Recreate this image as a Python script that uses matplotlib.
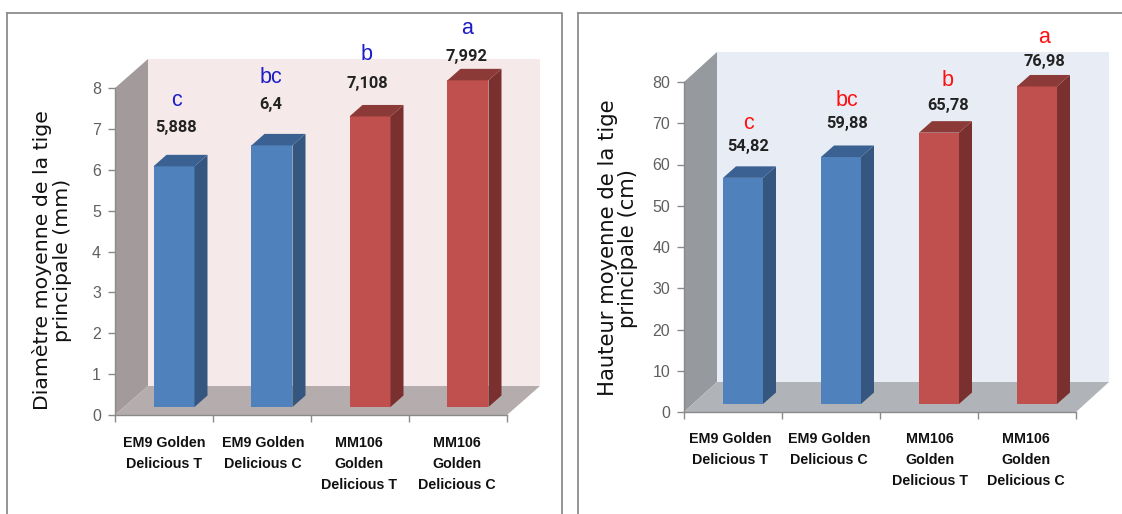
import matplotlib
matplotlib.use("Agg")
import matplotlib.pyplot as plt
from matplotlib.patches import Polygon, Rectangle

W, H = 1122, 514
categories = ["EM9 Golden\nDelicious T", "EM9 Golden\nDelicious C",
              "MM106\nGolden\nDelicious T", "MM106\nGolden\nDelicious C"]
diametre = [5.888, 6.4, 7.108, 7.992]
hauteur = [54.82, 59.88, 65.78, 76.98]
diam_labels = ["5,888", "6,4", "7,108", "7,992"]
haut_labels = ["54,82", "59,88", "65,78", "76,98"]
letters = ["c", "bc", "b", "a"]
diam_ticks = [0, 1, 2, 3, 4, 5, 6, 7, 8]
haut_ticks = [0, 10, 20, 30, 40, 50, 60, 70, 80]
bar_colors = ["blue", "blue", "red", "red"]

PAL = {"blue": ("#4F81BD", "#34567F", "#3A6191"), "red": ("#C0504D", "#7A302E", "#8C3A38")}
fig = plt.figure(figsize=(W / 100, H / 100), dpi=100, facecolor="white")
SANS = "Liberation Sans"
NARROW = "Roboto"

bg = fig.add_axes([0, 0, 1, 1], zorder=0)
bg.set_xlim(0, W); bg.set_ylim(H, 0); bg.axis("off")
bg.plot([7, 7], [H, 12.5], color="#8c8c8c", lw=1.3)
bg.plot([7, 562, 562], [12.5, 12.5, H], color="#8c8c8c", lw=1.3)
bg.plot([578.5, 578.5], [H, 12.5], color="#8c8c8c", lw=1.3)
bg.plot([578.5, W], [12.5, 12.5], color="#8c8c8c", lw=1.3)


def panel(left, right, y0px, ytoppx, ymax, values, vlabels, ticks, ylabel, backc, wallc, floorc,
          lettercolor, depth, barw, vgap, lgap, labx, catx, caty, ylabx, ylaby, ylabsize):
    ax = fig.add_axes([left / W, 1 - y0px / H, (right - left) / W, (y0px - ytoppx) / H], zorder=1)
    ax.set_xlim(0, 4)
    ax.set_ylim(0, ymax)
    ax.patch.set_alpha(0)
    sx = 4 / (right - left)
    sy = ymax / (y0px - ytoppx)
    ddx, ddy = depth[0] * sx, depth[1] * sy
    ax.add_patch(Polygon([(ddx, ddy), (4 + ddx, ddy), (4 + ddx, ymax + ddy), (ddx, ymax + ddy)],
                         fc=backc, ec="none", clip_on=False, zorder=1))
    ax.add_patch(Polygon([(0, 0), (ddx, ddy), (ddx, ymax + ddy), (0, ymax)],
                         fc=wallc, ec="none", clip_on=False, zorder=2))
    ax.add_patch(Polygon([(0, 0), (4, 0), (4 + ddx, ddy), (ddx, ddy)],
                         fc=floorc, ec="none", clip_on=False, zorder=2))
    bw = barw * sx
    bdx, bdy = 10 * sx, 8 * sy
    tx, ty = 13 * sx, 11.5 * sy
    for i, v in enumerate(values):
        f, s, t = PAL[bar_colors[i]]
        x0 = i + 0.5 - bw / 2 + bdx
        x1 = x0 + bw
        b = bdy
        top = b + v
        ax.add_patch(Rectangle((x0, b), bw, v, fc=f, ec="none", clip_on=False, zorder=3))
        ax.add_patch(Polygon([(x1, b), (x1 + tx, b + ty), (x1 + tx, top + ty), (x1, top)],
                             fc=s, ec="none", clip_on=False, zorder=3))
        ax.add_patch(Polygon([(x0, top), (x1, top), (x1 + tx, top + ty), (x0 + tx, top + ty)],
                             fc=t, ec="none", clip_on=False, zorder=3))
        cx = (labx[i] - left) * sx
        ax.text(cx, top + vgap[i] * sy, vlabels[i], ha="center", va="center", fontsize=11.8,
                family=NARROW, fontweight="bold", color="#222222", zorder=5, clip_on=False)
        ax.text(cx, top + lgap[i] * sy, letters[i], ha="center", va="center", fontsize=15.5,
                family=SANS, color=lettercolor, zorder=5, clip_on=False)
        ax.text((catx[i] - left) * sx, -caty * sy, categories[i], ha="center", va="top",
                fontsize=10.3, family=SANS, fontweight="bold", color="#111111", linespacing=1.62,
                zorder=5, clip_on=False)
    for sp in ("top", "right"):
        ax.spines[sp].set_visible(False)
    for sp in ("left", "bottom"):
        ax.spines[sp].set_color("#8a8a8a")
        ax.spines[sp].set_linewidth(1.0)
        ax.spines[sp].set_zorder(4)
    ax.set_xticks([0, 1, 2, 3, 4])
    ax.set_xticklabels([])
    ax.set_yticks(ticks)
    ax.tick_params(axis="x", length=5, color="#8a8a8a", width=1)
    ax.tick_params(axis="y", length=5, color="#8a8a8a", width=1, pad=5, labelsize=11.5,
                   labelcolor="#606060")
    for lb in ax.get_yticklabels():
        lb.set_family(SANS)
    bg.text(ylabx, ylaby, ylabel, rotation=90, ha="center", va="center", fontsize=ylabsize,
            family="DejaVu Sans", color="#111111", multialignment="center", linespacing=1.02)
    return ax


panel(115, 507, 415, 88, 8, diametre, diam_labels, diam_ticks,
      "Diamètre moyenne de la tige\nprincipale (mm)", "#F5E9E9", "#A39B9B", "#B5ADAD",
      "#1C1CC8", (33, 29), 41, [39, 41, 33, 24], [66, 68, 62, 52],
      [176, 271, 367, 467], [164, 263, 359, 457], 21, 52, 260, 14.7)
panel(684, 1076, 412, 82, 80, hauteur, haut_labels, haut_ticks,
      "Hauteur moyenne de la tige\nprincipale (cm)", "#E8ECF5", "#96999D", "#B0B3B7",
      "#FF1010", (33, 30), 40, [31, 33, 27, 25], [54, 56, 52, 49],
      [748, 847, 948, 1044], [730, 829, 930, 1026], 20, 618, 248, 15.2)

fig.savefig("out.png", dpi=100, facecolor="white")
